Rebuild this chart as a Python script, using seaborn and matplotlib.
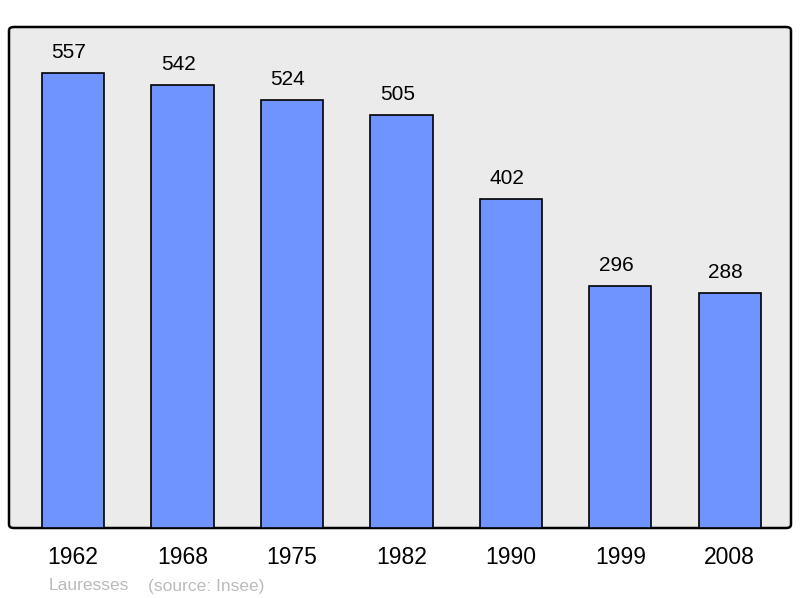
import pandas as pd
import seaborn as sns
import matplotlib.pyplot as plt
from matplotlib.patches import FancyBboxPatch

years = ['1962', '1968', '1975', '1982', '1990', '1999', '2008']
population = [557, 542, 524, 505, 402, 296, 288]

if __name__ == "__main__":
    plt.rcParams['font.family'] = ['Liberation Sans', 'DejaVu Sans']
    df = pd.DataFrame({'year': years, 'pop': population})

    fig = plt.figure(figsize=(8, 5.98), dpi=100)
    ax = fig.add_axes([9 / 800, 70 / 598, 782 / 800, 501 / 598])

    # rounded frame behind the axes
    frame = FancyBboxPatch((9 / 800, 70 / 598), 782 / 800, 501 / 598,
                           boxstyle='round,pad=0,rounding_size=0.006',
                           transform=fig.transFigure, facecolor='#ebebeb',
                           edgecolor='black', linewidth=1.8, zorder=-1)
    fig.patches.append(frame)
    ax.patch.set_visible(False)
    for s in ax.spines.values():
        s.set_visible(False)

    sns.barplot(data=df, x='year', y='pop', color='#7094ff', saturation=1,
                width=0.57, edgecolor='black', linewidth=1.2, ax=ax)

    for p in ax.patches:
        h = p.get_height()
        ax.annotate('{:d}'.format(int(h)), (p.get_x() + p.get_width() / 2, h),
                    xytext=(-3, 8), textcoords='offset points',
                    ha='center', va='bottom', fontsize=15)

    ax.set_xlim(-0.585, 6.56)
    ax.set_ylim(0, 613)
    ax.set_yticks([])
    ax.tick_params(axis='x', length=0, labelsize=16.5, pad=13)
    ax.set_xlabel('')
    ax.set_ylabel('')

    fig.text(49 / 800, 1 - 586 / 598, 'Lauresses', color='#bbbbbb', fontsize=12.5, va='center')
    fig.text(148 / 800, 1 - 586 / 598, '(source: Insee)', color='#bbbbbb', fontsize=12.5, va='center')

    fig.savefig('out.png', dpi=100)
